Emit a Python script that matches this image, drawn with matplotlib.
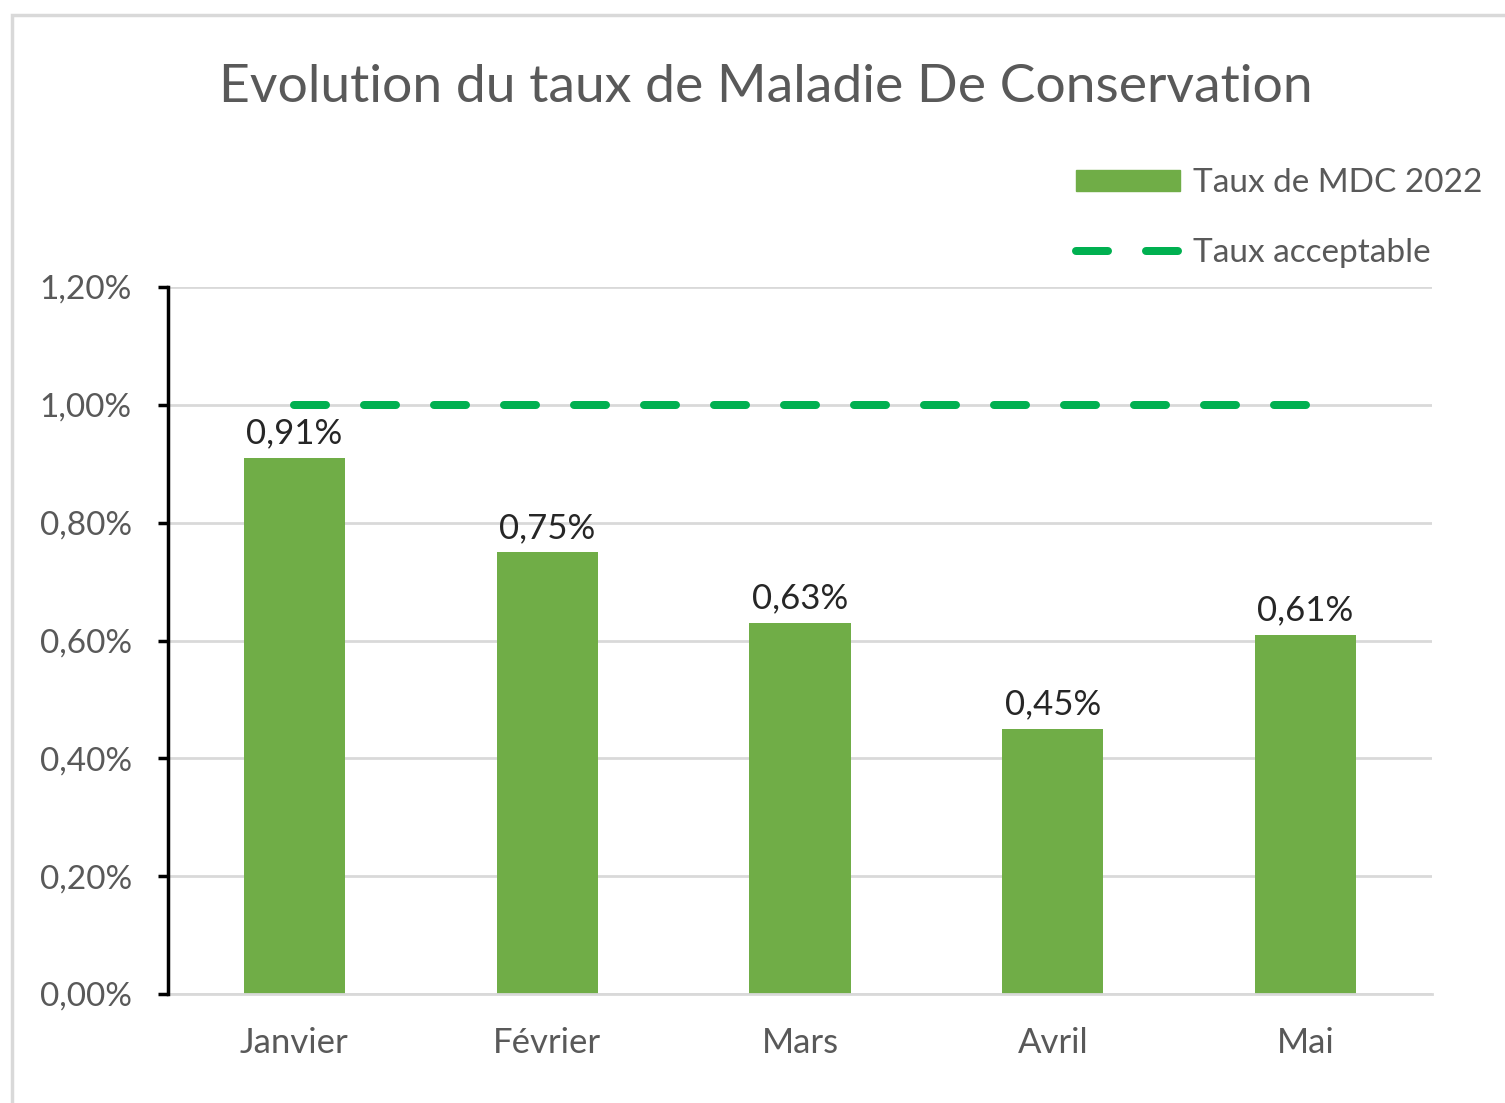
import matplotlib
matplotlib.use("Agg")
import matplotlib.pyplot as plt
from matplotlib.patches import Rectangle
from matplotlib.lines import Line2D
from matplotlib.ticker import FuncFormatter

months = ["Janvier", "Février", "Mars", "Avril", "Mai"]
taux_mdc = [0.91, 0.75, 0.63, 0.45, 0.61]
taux_acceptable = [1.00, 1.00, 1.00, 1.00, 1.00]
yticks = [0.0, 0.2, 0.4, 0.6, 0.8, 1.0, 1.2]

plt.rcParams['font.family'] = ['Lato', 'DejaVu Sans']

W, H = 1505, 1103
fig = plt.figure(figsize=(W / 100, H / 100), dpi=100)
fig.patches.append(Rectangle((12 / W, -0.1), 1.2, (H - 15) / H + 0.1, transform=fig.transFigure,
                             fill=False, edgecolor="#D9D9D9", linewidth=2.5, zorder=0))

LW = 5.76
DASH = (4.0, 4.75)

ax = fig.add_axes([168 / W, 1 - 994 / H, (1432 - 168) / W, (994 - 287) / H])
x = list(range(len(months)))
bars = ax.bar(x, taux_mdc, width=0.4, color="#70AD47", zorder=2, label="Taux de MDC 2022")
ax.plot(x, taux_acceptable, color="#00B050", linewidth=LW, dashes=DASH,
        dash_capstyle="round", zorder=3, label="Taux acceptable")

for xi, v in zip(x, taux_mdc):
    ax.annotate(f"{v:.2f}%".replace(".", ","), (xi, v), xytext=(0, 6), textcoords="offset points",
                ha="center", va="bottom", fontsize=25, color="#262626")

ax.set_xlim(-0.5, 4.5)
ax.set_ylim(0, 1.2)
ax.set_yticks(yticks)
ax.yaxis.set_major_formatter(FuncFormatter(lambda v, p: f"{v:.2f}%".replace(".", ",")))
ax.set_xticks(x)
ax.set_xticklabels(months)
ax.tick_params(axis="y", length=7, width=2.5, color="black", labelsize=24, labelcolor="#595959", pad=19)
ax.tick_params(axis="x", length=0, labelsize=25, labelcolor="#595959", pad=24)
ax.grid(axis="y", color="#D9D9D9", linewidth=2, zorder=0)
ax.set_axisbelow(True)
for s in ["top", "right"]:
    ax.spines[s].set_visible(False)
ax.spines["left"].set_color("black")
ax.spines["left"].set_linewidth(2.5)
ax.spines["left"].set_zorder(4)
ax.spines["bottom"].set_color("#D9D9D9")
ax.spines["bottom"].set_linewidth(2)

fig.text(766 / W, 1 - 88 / H, "Evolution du taux de Maladie De Conservation", ha="center", va="center",
         fontsize=38.5, color="#595959")

handles = [Rectangle((0, 0), 1, 1, color="#70AD47"),
           Line2D([0], [0], color="#00B050", linewidth=LW, dashes=DASH, dash_capstyle="round")]
fig.legend(handles, ["Taux de MDC 2022", "Taux acceptable"], loc="upper right",
           bbox_to_anchor=(1506 / W, 1 - 145 / H), frameon=False, fontsize=24,
           labelcolor="#595959", handlelength=3.1, handleheight=0.6, handletextpad=0.4,
           labelspacing=1.2, borderpad=0.2)

fig.savefig("out.png", dpi=100)
